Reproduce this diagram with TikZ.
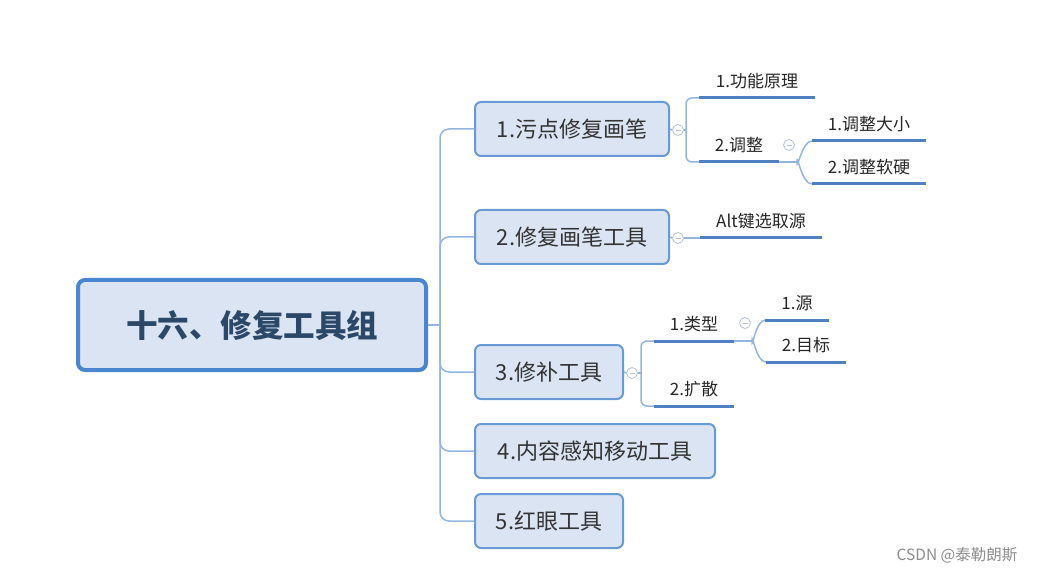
\documentclass[tikz,border=0pt]{standalone}
\usepackage{fontspec}
\setmainfont{Noto Sans CJK SC}
\usepackage{xcolor}
\usepackage{tikz}
\definecolor{mapblue}{HTML}{4A86D0}
\definecolor{mapedge}{HTML}{6A9AD4}
\definecolor{mapfill}{HTML}{DAE4F2}
\definecolor{mapline}{HTML}{93B5DE}
\definecolor{mapuline}{HTML}{4F80C2}
\definecolor{maptext}{HTML}{2C4868}
\definecolor{foldline}{HTML}{B4C2D8}

\begin{document}
\begin{tikzpicture}[
  x=1pt, y=-1pt,
  rootbox/.style={draw=mapblue, line width=4pt, rounded corners=7pt, fill=mapfill, minimum width=348pt, minimum height=90pt, font=\fontsize{31.5}{36}\selectfont\bfseries, text=maptext},
  mainbox/.style={draw=mapedge, line width=2pt, rounded corners=6pt, fill=mapfill, minimum height=54pt, anchor=west, font=\fontsize{22}{26}\selectfont, text=black!80},
  topic/.style={anchor=south, inner xsep=0pt, inner ysep=7pt, text height=12pt, text depth=3pt, font=\fontsize{17}{20}\selectfont, text=black!85},
  uline/.style={draw=mapuline, line width=3pt},
  branch/.style={draw=mapline, line width=1.5pt},
  fold/.style={circle, draw=foldline, fill=white, line width=0.8pt, minimum size=11pt, inner sep=0pt,
    path picture={\draw[foldline, line width=0.8pt] ([xshift=-2.5pt]path picture bounding box.center) -- ([xshift=2.5pt]path picture bounding box.center);}}
]
\useasboundingbox (0,0) rectangle (1041,577);

% root and first level
\node[rootbox] (root) at (252,325) {十六、修复工具组};
\node[mainbox, minimum width=194pt] (b1) at (474,129) {1.污点修复画笔};
\node[mainbox, minimum width=194pt] (b2) at (474,237) {2.修复画笔工具};
\node[mainbox, minimum width=148pt] (b3) at (474,372) {3.修补工具};
\node[mainbox, minimum width=240pt] (b4) at (474,451) {4.内容感知移动工具};
\node[mainbox, minimum width=148pt] (b5) at (474,521) {5.红眼工具};
\coordinate (trunk) at (440,325);

% fold markers
\node[fold] (f1) at (678,130) {};
\node[fold] (f2) at (678,238) {};
\node[fold] (f3) at (632,373) {};
\node[fold] (f12) at (789,145) {};
\node[fold] (f31) at (745,323) {};

% second and third level
\node[topic, minimum width=115pt] (t11) at (757,98) {1.功能原理};
\node[topic, minimum width=79pt] (t12) at (739,162) {2.调整};
\node[topic, minimum width=114pt] (t121) at (869,141) {1.调整大小};
\node[topic, minimum width=114pt] (t122) at (869,184) {2.调整软硬};
\node[topic, minimum width=122pt] (t21) at (761,238) {Alt键选取源};
\node[topic, minimum width=80pt] (t31) at (694,341) {1.类型};
\node[topic, minimum width=80pt] (t32) at (694,406) {2.扩散};
\node[topic, minimum width=63pt] (t311) at (797,320) {1.源};
\node[topic, minimum width=80pt] (t312) at (806,362) {2.目标};
\coordinate (j1) at (686,130);
\coordinate (j12) at (797,162);
\coordinate (j3) at (641,373);
\coordinate (j31) at (752,341);

\node[text=black!45, font=\fontsize{15.5}{18}\selectfont] (mark) at (957,555) {CSDN @泰勒朗斯};

% connectors
\draw[branch] (root.east) -- (trunk);
\foreach \b in {b1,b2,b3,b4,b5}
  \draw[branch, rounded corners=9pt] (trunk) |- (\b.west);

\draw[branch] (b1.east) -- (f1.west);
\draw[branch] (f1.east) -- (j1);
\draw[branch, rounded corners=6pt] (j1) |- (t11.south west);
\draw[branch, rounded corners=6pt] (j1) |- (t12.south west);
\draw[branch] (t12.south east) -- (j12);
\draw[branch] (j12) to[out=-90, in=180] (t121.south west);
\draw[branch] (j12) to[out=90, in=180] (t122.south west);

\draw[branch] (b2.east) -- (f2.west);
\draw[branch] (f2.east) -- (t21.south west);

\draw[branch] (b3.east) -- (f3.west);
\draw[branch] (f3.east) -- (j3);
\draw[branch, rounded corners=6pt] (j3) |- (t31.south west);
\draw[branch, rounded corners=6pt] (j3) |- (t32.south west);
\draw[branch] (t31.south east) -- (j31);
\draw[branch] (j31) to[out=-90, in=180] (t311.south west);
\draw[branch] (j31) to[out=90, in=180] (t312.south west);

% underlines
\foreach \t in {t11,t12,t121,t122,t21,t31,t32,t311,t312}
  \draw[uline] (\t.south west) -- (\t.south east);
\end{tikzpicture}
\end{document}
